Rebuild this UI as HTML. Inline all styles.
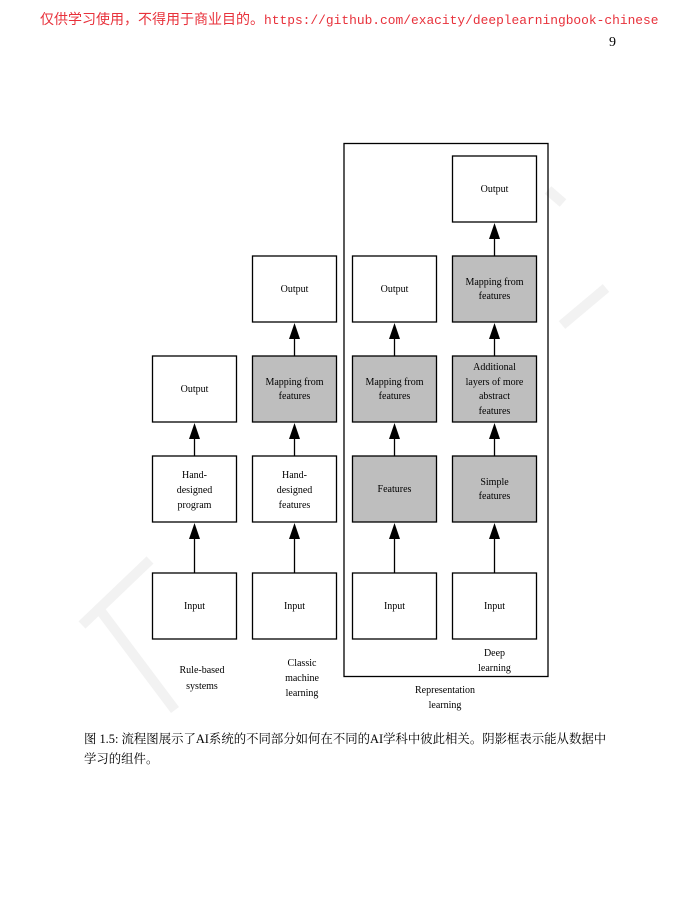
<!DOCTYPE html>
<html><head><meta charset="utf-8"><style>
body{margin:0;width:700px;height:900px;background:#fff;overflow:hidden;position:relative;font-family:"Liberation Serif","Noto Serif CJK SC",serif}
.hdr{position:absolute;left:40px;top:9px;color:#e8313b;font-size:14px;white-space:nowrap}
.hdr .m{font-family:"Liberation Mono",monospace;font-size:12.9px}
.pg{position:absolute;left:609px;top:35px;font-size:14px}
.cap{position:absolute;left:84px;top:729px;font-size:12.4px;line-height:20px;width:534px}
</style></head><body>
<div class="hdr"><span style="font-family:'Noto Sans CJK SC',sans-serif">仅供学习使用，不得用于商业目的。</span><span class="m">https://github.com/exacity/deeplearningbook-chinese</span></div>
<div class="pg">9</div>
<svg width="700" height="900" style="position:absolute;left:0;top:0" font-family="Liberation Serif, serif" font-size="10">
<g stroke="#f2f2f2" stroke-width="10" fill="none" stroke-linecap="butt">
<line x1="82" y1="625" x2="150" y2="560"/>
<line x1="100" y1="610" x2="175" y2="710"/>
<line x1="562" y1="325" x2="606" y2="288"/>
<line x1="548" y1="190" x2="563" y2="203"/>
</g>
<rect x="344" y="143.5" width="204" height="533" fill="none" stroke="#000" stroke-width="1.3"/>
<g stroke="#000" stroke-width="1.3">
<rect x="152.5" y="573" width="84" height="66" fill="#fff"/>
<rect x="152.5" y="456" width="84" height="66" fill="#fff"/>
<rect x="152.5" y="356" width="84" height="66" fill="#fff"/>
<rect x="252.5" y="573" width="84" height="66" fill="#fff"/>
<rect x="252.5" y="456" width="84" height="66" fill="#fff"/>
<rect x="252.5" y="356" width="84" height="66" fill="#bebebe"/>
<rect x="252.5" y="256" width="84" height="66" fill="#fff"/>
<rect x="352.5" y="573" width="84" height="66" fill="#fff"/>
<rect x="352.5" y="456" width="84" height="66" fill="#bebebe"/>
<rect x="352.5" y="356" width="84" height="66" fill="#bebebe"/>
<rect x="352.5" y="256" width="84" height="66" fill="#fff"/>
<rect x="452.5" y="573" width="84" height="66" fill="#fff"/>
<rect x="452.5" y="456" width="84" height="66" fill="#bebebe"/>
<rect x="452.5" y="356" width="84" height="66" fill="#bebebe"/>
<rect x="452.5" y="256" width="84" height="66" fill="#bebebe"/>
<rect x="452.5" y="156" width="84" height="66" fill="#fff"/>
</g>
<g stroke="#000" stroke-width="1.3">
<line x1="194.5" y1="573" x2="194.5" y2="535"/><line x1="194.5" y1="456" x2="194.5" y2="436"/>
<line x1="294.5" y1="573" x2="294.5" y2="535"/><line x1="294.5" y1="456" x2="294.5" y2="436"/><line x1="294.5" y1="356" x2="294.5" y2="336"/>
<line x1="394.5" y1="573" x2="394.5" y2="535"/><line x1="394.5" y1="456" x2="394.5" y2="436"/><line x1="394.5" y1="356" x2="394.5" y2="336"/>
<line x1="494.5" y1="573" x2="494.5" y2="535"/><line x1="494.5" y1="456" x2="494.5" y2="436"/><line x1="494.5" y1="356" x2="494.5" y2="336"/><line x1="494.5" y1="256" x2="494.5" y2="236"/>
</g>
<g fill="#000">
<path d="M189,539 L194.5,523 L200,539Z"/><path d="M189,439 L194.5,423 L200,439Z"/>
<path d="M289,539 L294.5,523 L300,539Z"/><path d="M289,439 L294.5,423 L300,439Z"/><path d="M289,339 L294.5,323 L300,339Z"/>
<path d="M389,539 L394.5,523 L400,539Z"/><path d="M389,439 L394.5,423 L400,439Z"/><path d="M389,339 L394.5,323 L400,339Z"/>
<path d="M489,539 L494.5,523 L500,539Z"/><path d="M489,439 L494.5,423 L500,439Z"/><path d="M489,339 L494.5,323 L500,339Z"/><path d="M489,239 L494.5,223 L500,239Z"/>
</g>
<g text-anchor="middle" fill="#000">
<text x="194.5" y="609">Input</text><text x="294.5" y="609">Input</text><text x="394.5" y="609">Input</text><text x="494.5" y="609">Input</text>
<text x="194.5" y="478">Hand-</text><text x="194.5" y="493">designed</text><text x="194.5" y="508">program</text>
<text x="294.5" y="478">Hand-</text><text x="294.5" y="493">designed</text><text x="294.5" y="508">features</text>
<text x="394.5" y="492">Features</text>
<text x="494.5" y="485">Simple</text><text x="494.5" y="499">features</text>
<text x="194.5" y="392">Output</text>
<text x="294.5" y="385">Mapping from</text><text x="294.5" y="399">features</text>
<text x="394.5" y="385">Mapping from</text><text x="394.5" y="399">features</text>
<text x="494.5" y="370">Additional</text><text x="494.5" y="385">layers of more</text><text x="494.5" y="399">abstract</text><text x="494.5" y="414">features</text>
<text x="294.5" y="292">Output</text><text x="394.5" y="292">Output</text>
<text x="494.5" y="285">Mapping from</text><text x="494.5" y="299">features</text>
<text x="494.5" y="192">Output</text>
<text x="202" y="673">Rule-based</text><text x="202" y="689">systems</text>
<text x="302" y="666">Classic</text><text x="302" y="681">machine</text><text x="302" y="696">learning</text>
<text x="494.5" y="656">Deep</text><text x="494.5" y="671">learning</text>
<text x="445" y="693">Representation</text><text x="445" y="708">learning</text>
</g>
</svg>
<div class="cap">图 1.5: 流程图展示了AI系统的不同部分如何在不同的AI学科中彼此相关。阴影框表示能从数据中学习的组件。</div>
</body></html>
